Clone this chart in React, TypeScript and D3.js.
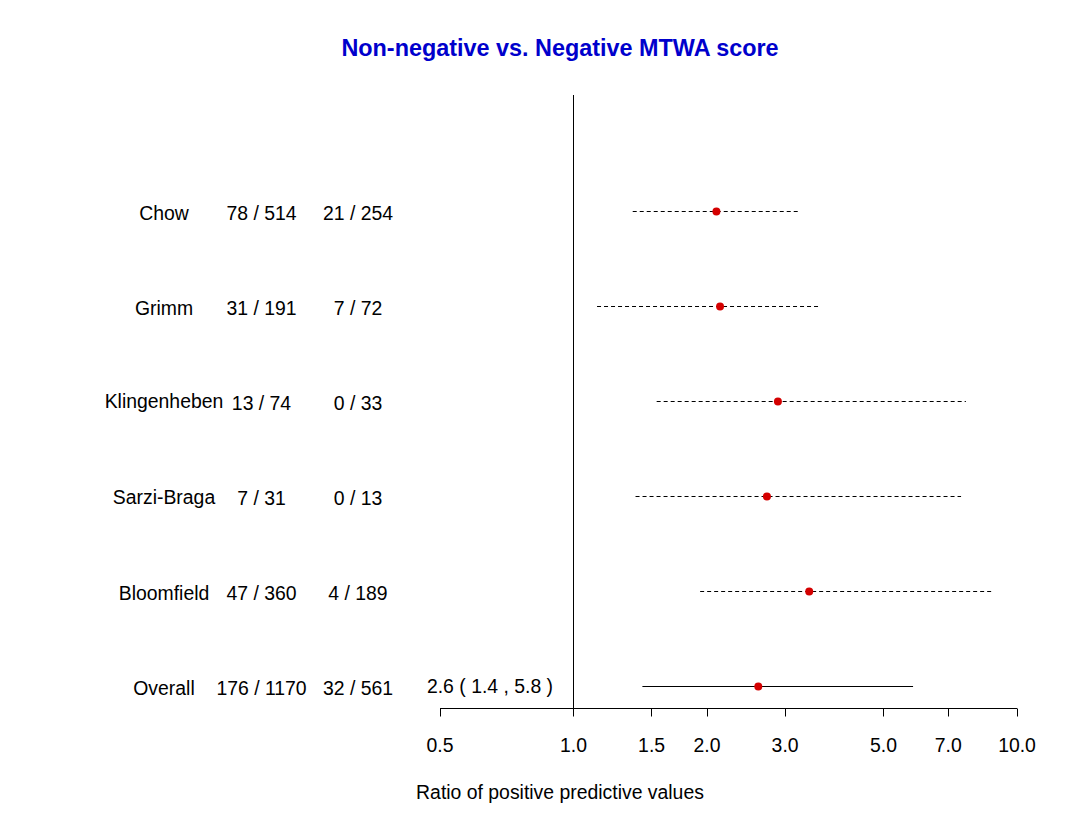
import React from "react";
import * as d3 from "d3";

const studies = ["Chow", "Grimm", "Klingenheben", "Sarzi-Braga", "Bloomfield", "Overall"];
const groupA = ["78 / 514", "31 / 191", "13 / 74", "7 / 31", "47 / 360", "176 / 1170"];
const groupB = ["21 / 254", "7 / 72", "0 / 33", "0 / 13", "4 / 189", "32 / 561"];
const estimates = [2.1, 2.14, 2.89, 2.73, 3.4, 2.61];
const lowers = [1.36, 1.13, 1.54, 1.38, 1.93, 1.43];
const uppers = [3.21, 3.56, 7.67, 7.48, 8.83, 5.83];
const overallLabel = "2.6 ( 1.4 , 5.8 )";
const tickValues = [0.5, 1.0, 1.5, 2.0, 3.0, 5.0, 7.0, 10.0];

export default function App() {
  const width = 1075;
  const height = 826;
  const x = d3.scaleLog().domain([0.5, 10]).range([440, 1017]);
  const y = d3.scalePoint<string>().domain(studies).range([211, 686]);
  const font = "'Liberation Sans', Arial, sans-serif";
  const axisY = 708.5;
  const fs = 19.4;
  const px = (v: number) => Math.floor(x(v)) + 0.5;
  const nameShift: Record<string, number> = { Klingenheben: -2, "Sarzi-Braga": -1 };
  return (
    <svg width={width} height={height} style={{ position: "absolute", left: 0, top: 0, background: "#fff" }} fontFamily={font}>
      <rect x={0} y={0} width={width} height={height} fill="#fff" />
      <text x={560} y={56} textAnchor="middle" fill="#0000CC" fontWeight="bold" fontSize={23.4}>
        Non-negative vs. Negative MTWA score
      </text>
      <line x1={px(1)} x2={px(1)} y1={95} y2={axisY} stroke="#000" strokeWidth={1} />
      {studies.map((s, i) => {
        const yy = y(s)!;
        const isOverall = s === "Overall";
        return (
          <g key={s}>
            <text x={164} y={yy + 9 + (nameShift[s] ?? 0)} textAnchor="middle" fontSize={fs}>{s}</text>
            <text x={261.5} y={yy + 9} textAnchor="middle" fontSize={fs}>{groupA[i]}</text>
            <text x={358} y={yy + 9} textAnchor="middle" fontSize={fs}>{groupB[i]}</text>
            <line x1={x(lowers[i])} x2={x(uppers[i])} y1={yy + 0.5} y2={yy + 0.5} stroke="#000" strokeWidth={1} strokeDasharray={isOverall ? undefined : "4,3"} />
            <circle cx={x(estimates[i])} cy={yy + 0.5} r={4} fill="#D40000" />
            {isOverall && (
              <text x={490} y={yy + 7} textAnchor="middle" fontSize={fs}>{overallLabel}</text>
            )}
          </g>
        );
      })}
      <line x1={x(0.5)} x2={x(10)} y1={axisY} y2={axisY} stroke="#000" />
      {tickValues.map((t) => (
        <g key={t}>
          <line x1={px(t)} x2={px(t)} y1={axisY} y2={axisY + 8} stroke="#000" />
          <text x={x(t)} y={752} textAnchor="middle" fontSize={fs}>{t.toFixed(1)}</text>
        </g>
      ))}
      <text x={560} y={799} textAnchor="middle" fontSize={fs}>Ratio of positive predictive values</text>
    </svg>
  );
}
